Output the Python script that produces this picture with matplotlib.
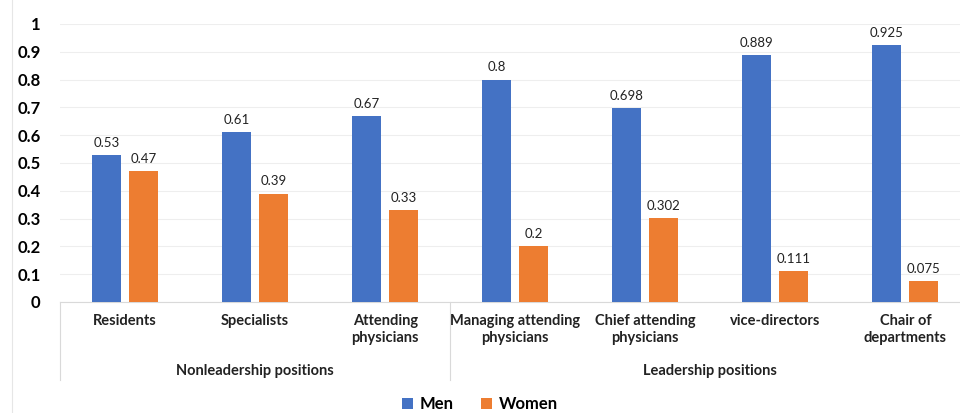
import matplotlib.pyplot as plt
from matplotlib.transforms import blended_transform_factory
import numpy as np

plt.rcParams['font.family'] = ['Lato', 'DejaVu Sans']

# positions and share of men / women
categories = ['Residents', 'Specialists', 'Attending\nphysicians',
              'Managing attending\nphysicians', 'Chief attending\nphysicians',
              'vice-directors', 'Chair of\ndepartments']
men = [0.53, 0.61, 0.67, 0.8, 0.698, 0.889, 0.925]
women = [0.47, 0.39, 0.33, 0.2, 0.302, 0.111, 0.075]
men_labels = ['0.53', '0.61', '0.67', '0.8', '0.698', '0.889', '0.925']
women_labels = ['0.47', '0.39', '0.33', '0.2', '0.302', '0.111', '0.075']
groups = ['Nonleadership positions', 'Leadership positions']
group_sizes = [3, 4]

blue = '#4472C4'
orange = '#ED7D31'

fig = plt.figure(figsize=(9.6, 4.13), dpi=100)
ax = fig.add_axes([0.0625, 0.2688, 0.9375, 0.6731])

x = np.arange(len(categories))
w = 0.223
off = 0.142
b1 = ax.bar(x - off, men, w, color=blue, label='Men', zorder=3)
b2 = ax.bar(x + off, women, w, color=orange, label='Women', zorder=3)

for bars, labs in [(b1, men_labels), (b2, women_labels)]:
    for b, t in zip(bars, labs):
        ax.text(b.get_x() + b.get_width() / 2, b.get_height() + 0.022, t,
                ha='center', va='bottom', fontsize=9.5, color='#222222')

ax.set_xlim(-0.5, 6.42)
ax.set_ylim(0, 1)
ax.set_yticks(np.arange(0, 1.01, 0.1))
ax.set_yticklabels(['0'] + ['%.1f' % v for v in np.arange(0.1, 0.95, 0.1)] + ['1'],
                   fontsize=12, fontweight='bold')
ax.grid(axis='y', color='#eeeeee', linewidth=0.8, zorder=0)
ax.tick_params(axis='y', length=0, pad=14)
ax.set_xticks([])
for s in ['left', 'right', 'top']:
    ax.spines[s].set_visible(False)
ax.spines['bottom'].set_color('#d9d9d9')

trans = blended_transform_factory(ax.transData, ax.transAxes)
for xi, lab in zip(x, categories):
    ax.text(xi, -0.045, lab, transform=trans, ha='center', va='top',
            fontsize=10.5, fontweight='bold', color='#222222', linespacing=1.25)

# group separators and group names
start = -0.5
for g, n in zip(groups, group_sizes):
    ax.plot([start, start], [0, -0.28], transform=trans, color='#d9d9d9',
            linewidth=0.8, clip_on=False)
    ax.text(start + n / 2, -0.25, g, transform=trans, ha='center', va='center',
            fontsize=10.5, fontweight='bold', color='#222222')
    start += n
ax.plot([start, start], [0, -0.28], transform=trans, color='#d9d9d9',
        linewidth=0.8, clip_on=False)

# outer chart border on the left
fig.add_artist(plt.Line2D([12 / 960, 12 / 960], [0, 1], color='#e6e6e6',
                          linewidth=0.8))

fig.legend(handles=[b1, b2], loc='lower center', bbox_to_anchor=(0.5, -0.035),
           ncol=2, frameon=False, handlelength=0.7, handleheight=0.7,
           handletextpad=0.4, columnspacing=1.6,
           prop={'size': 12, 'weight': 'bold'})

fig.savefig('out.png', dpi=100)
